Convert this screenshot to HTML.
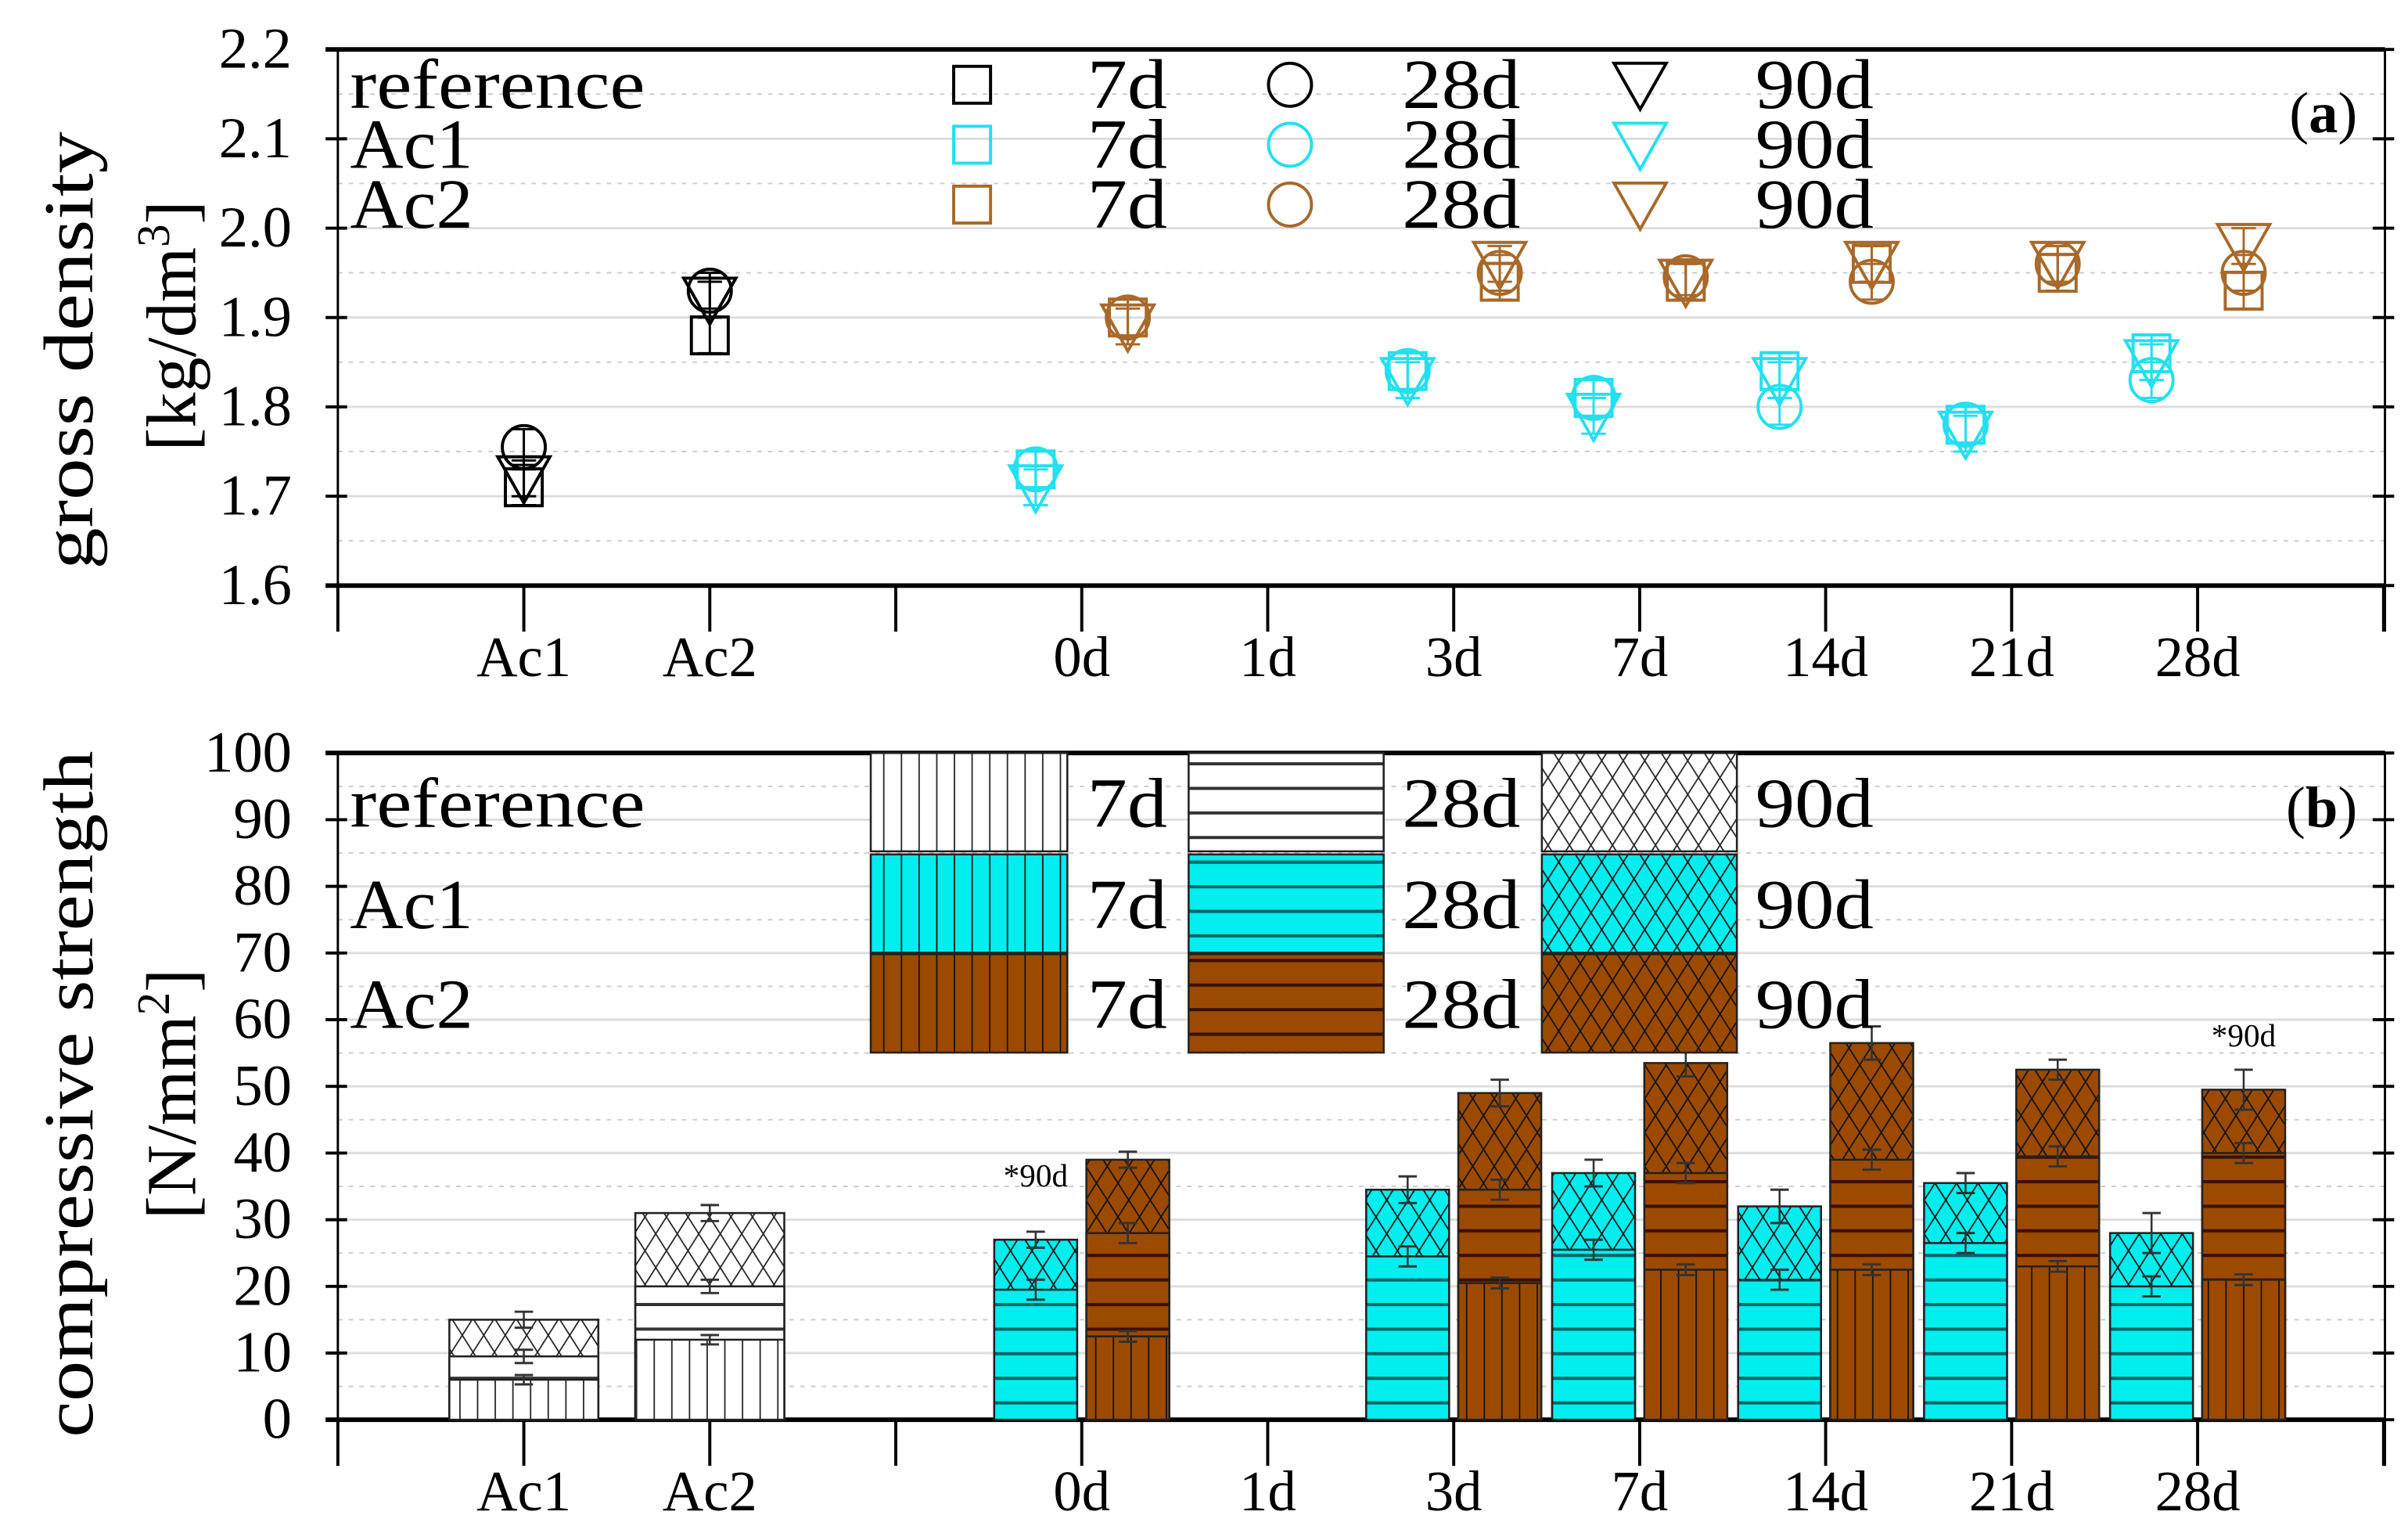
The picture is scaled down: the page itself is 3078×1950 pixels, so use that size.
<!DOCTYPE html>
<html><head><meta charset="utf-8">
<style>
html,body{margin:0;padding:0;background:#fff;}
svg{display:block;font-family:"Liberation Serif",serif;}
</style></head>
<body>
<svg id="fig" width="3078" height="1950" viewBox="0 0 1568 993" xmlns="http://www.w3.org/2000/svg">
<defs>
  <pattern id="pv-w" patternUnits="userSpaceOnUse" width="11.5" height="9"><rect width="11.5" height="9" fill="#fff"/><line x1="0.5" y1="0" x2="0.5" y2="9" stroke="#222" stroke-width="0.9"/></pattern>
  <pattern id="pv-c" patternUnits="userSpaceOnUse" width="11.5" height="9"><rect width="11.5" height="9" fill="#00eeee"/><line x1="0.5" y1="0" x2="0.5" y2="9" stroke="#111" stroke-width="0.9"/></pattern>
  <pattern id="pv-b" patternUnits="userSpaceOnUse" width="11.5" height="9"><rect width="11.5" height="9" fill="#9b4a00"/><line x1="0.5" y1="0" x2="0.5" y2="9" stroke="#111" stroke-width="0.9"/></pattern>
  <pattern id="ph-w" patternUnits="userSpaceOnUse" width="9" height="16"><rect width="9" height="16" fill="#fff"/><line x1="0" y1="1" x2="9" y2="1" stroke="#333" stroke-width="2"/></pattern>
  <pattern id="ph-c" patternUnits="userSpaceOnUse" width="9" height="16"><rect width="9" height="16" fill="#00eeee"/><line x1="0" y1="1" x2="9" y2="1" stroke="#066" stroke-width="2.2"/></pattern>
  <pattern id="ph-b" patternUnits="userSpaceOnUse" width="9" height="16"><rect width="9" height="16" fill="#9b4a00"/><line x1="0" y1="1" x2="9" y2="1" stroke="#3a1000" stroke-width="2.2"/></pattern>
  <pattern id="px-w" patternUnits="userSpaceOnUse" width="14" height="22"><rect width="14" height="22" fill="#fff"/><path d="M0,0L14,22M14,0L0,22" stroke="#222" stroke-width="0.9"/></pattern>
  <pattern id="px-c" patternUnits="userSpaceOnUse" width="14" height="22"><rect width="14" height="22" fill="#00eeee"/><path d="M0,0L14,22M14,0L0,22" stroke="#111" stroke-width="0.9"/></pattern>
  <pattern id="px-b" patternUnits="userSpaceOnUse" width="14" height="22"><rect width="14" height="22" fill="#9b4a00"/><path d="M0,0L14,22M14,0L0,22" stroke="#111" stroke-width="0.9"/></pattern>
</defs>
<g id="pa"></g>
<g id="pb"></g>
</svg>
<script>
// ---- data ----
const categories = ["Ac1","Ac2","","0d","1d","3d","7d","14d","21d","28d"];
const catSlots = [1,2,3,4,5,6,7,8,9,10];
// density (panel a)
const refDensSlots = [1,2];
const refDens7 = [1.71,1.88];
const refDens28 = [1.755,1.93];
const refDens90 = [1.72,1.92];
const ageSlots = [4,6,7,8,9,10];
const ac1Dens7 = [1.73,1.84,1.81,1.84,1.78,1.86];
const ac1Dens28 = [1.73,1.84,1.81,1.80,1.78,1.83];
const ac1Dens90 = [1.71,1.83,1.79,1.83,1.77,1.85];
const ac2Dens7 = [1.90,1.94,1.94,1.96,1.95,1.93];
const ac2Dens28 = [1.90,1.95,1.945,1.94,1.96,1.95];
const ac2Dens90 = [1.89,1.96,1.94,1.96,1.96,1.98];
const densErr = 0.02;
const densTicks = [1.6,1.7,1.8,1.9,2.0,2.1,2.2];
// strength (panel b)
const refStr7 = [6,12];
const refStr28 = [9.5,20];
const refStr90 = [15,31];
const ac1Str28 = [19.5,24.5,25.5,21,26.5,20];
const ac1Str90 = [27,34.5,37,32,35.5,28];
const ac2Str7 = [12.5,20.5,22.5,22.5,23,21];
const ac2Str28 = [28,34.5,37,39,39.5,40];
const ac2Str90 = [39,49,53.5,56.5,52.5,49.5];
const strErr = [1.2,2,2,2.5,1.5,3];
const strTicks = [0,10,20,30,40,50,60,70,80,90,100];

// ---- helpers ----
const NS="http://www.w3.org/2000/svg";
function mk(parent,tag,attrs,text){const e=document.createElementNS(NS,tag);for(const k in attrs)e.setAttribute(k,attrs[k]);if(text!==undefined)e.textContent=text;parent.appendChild(e);return e;}
const X0=220,X1=1553,SLOT=121.1;
const sx=s=>X0+s*SLOT;
const ya=v=>381-(v-1.6)/(0.6)*349;
const yb=v=>924-v/100*434;
const CY="#22e0f0",BR="#a8692a";
const LA="spacingAndGlyphs";

function axes(g,yf,ticks,top,bot,fmt){
  for(let i=0;i<ticks.length;i++){const t=ticks[i];
    if(i>0&&i<ticks.length-1){const l=mk(g,"line",{x1:X0,x2:X1,y1:yf(t),y2:yf(t),stroke:"#ddd","stroke-width":1.5});}
    if(i<ticks.length-1){const m=(t+ticks[i+1])/2;const l=mk(g,"line",{x1:X0,x2:X1,y1:yf(m),y2:yf(m),stroke:"#ccc","stroke-width":1,"stroke-dasharray":"3,4"});}
  }
  mk(g,"line",{x1:X0-8,x2:X1,y1:top,y2:top,stroke:"#000","stroke-width":3});
  mk(g,"line",{x1:X0-8,x2:X1,y1:bot,y2:bot,stroke:"#000","stroke-width":3});
  mk(g,"line",{x1:X0,x2:X0,y1:top,y2:bot+30,stroke:"#000","stroke-width":1.5});
  mk(g,"line",{x1:X1,x2:X1,y1:top,y2:bot+30,stroke:"#000","stroke-width":1.5});
  for(const t of ticks){
    mk(g,"line",{x1:X0-8,x2:X0+6,y1:yf(t),y2:yf(t),stroke:"#000","stroke-width":2});
    mk(g,"line",{x1:X1-8,x2:X1+6,y1:yf(t),y2:yf(t),stroke:"#000","stroke-width":2});
    const tl=mk(g,"text",{x:X0-30,y:yf(t)+12,"font-size":38,"text-anchor":"end"},fmt(t));
    
  }
  for(let s=0;s<=11;s++){mk(g,"line",{x1:sx(s),x2:sx(s),y1:bot,y2:bot+30,stroke:"#000","stroke-width":2});}
  for(let i=0;i<categories.length;i++){
    const t=mk(g,"text",{x:sx(catSlots[i]),y:bot+59,"font-size":37,"text-anchor":"middle"},categories[i]);
    
  }
}
function legText(g,x,y,s,len){return mk(g,"text",{x:x,y:y,"font-size":46,textLength:len,lengthAdjust:LA},s);}

// ---- panel a ----
const pa=document.getElementById("pa");
axes(pa,ya,densTicks,32,381,t=>t.toFixed(1));
function marker(g,type,x,y,col){
  let e;
  if(type==="sq") e=mk(g,"rect",{x:x-12,y:y-12,width:24,height:24,fill:"none",stroke:col,"stroke-width":2});
  else if(type==="ci") e=mk(g,"circle",{cx:x,cy:y,r:14,fill:"none",stroke:col,"stroke-width":2});
  else e=mk(g,"path",{d:`M${x-17},${y-14}L${x+17},${y-14}L${x},${y+16}Z`,fill:"none",stroke:col,"stroke-width":2});
  return e;
}
function errA(g,x,v,col){
  mk(g,"line",{x1:x,x2:x,y1:ya(v+densErr),y2:ya(v-densErr),stroke:col,"stroke-width":1.5});
  mk(g,"line",{x1:x-8,x2:x+8,y1:ya(v+densErr),y2:ya(v+densErr),stroke:col,"stroke-width":1.5});
  mk(g,"line",{x1:x-8,x2:x+8,y1:ya(v-densErr),y2:ya(v-densErr),stroke:col,"stroke-width":1.5});
}
function series(slots,off,vals,type,col,name){
  for(let i=0;i<slots.length;i++){const x=sx(slots[i])+off;errA(pa,x,vals[i],col);const m=marker(pa,type,x,ya(vals[i]),col);
    }
}
series(refDensSlots,0,refDens7,"sq","#000","ref-7d-point");
series(refDensSlots,0,refDens28,"ci","#000","ref-28d-point");
series(refDensSlots,0,refDens90,"tr","#000","ref-90d-point");
series(ageSlots,-30,ac1Dens7,"sq",CY,"ac1-7d-point");
series(ageSlots,-30,ac1Dens28,"ci",CY,"ac1-28d-point");
series(ageSlots,-30,ac1Dens90,"tr",CY,"ac1-90d-point");
series(ageSlots,30,ac2Dens7,"sq",BR,"ac2-7d-point");
series(ageSlots,30,ac2Dens28,"ci",BR,"ac2-28d-point");
series(ageSlots,30,ac2Dens90,"tr",BR,"ac2-90d-point");
const lga=mk(pa,"g",{});

const rowsA=[["reference","#000",55,192],["Ac1",CY,94,80],["Ac2",BR,133,80]];
for(const r of rowsA){
  legText(lga,228,r[2]+15,r[0],r[3]);
  marker(lga,"sq",633,r[2],r[1]);marker(lga,"ci",840,r[2],r[1]);marker(lga,"tr",1068,r[2],r[1]);
  legText(lga,708,r[2]+15,"7d",52);
  legText(lga,913,r[2]+15,"28d",77);
  legText(lga,1143,r[2]+15,"90d",77);
}
const pla=mk(pa,"text",{x:1535,y:86,"font-size":38,"text-anchor":"end"},"");
pla.innerHTML='(<tspan font-weight="bold">a</tspan>)';

const yta=mk(pa,"text",{transform:"translate(60,228) rotate(-90)","font-size":46,"text-anchor":"middle",textLength:285,lengthAdjust:LA},"gross density");

const yta2=mk(pa,"text",{transform:"translate(127,212) rotate(-90)","font-size":46,"text-anchor":"middle"},"");
yta2.innerHTML='[kg/dm<tspan font-size="30" dy="-17">3</tspan><tspan dy="17">]</tspan>';


// ---- panel b ----
const pb=document.getElementById("pb");
axes(pb,yb,strTicks,490,924,t=>String(t));
function bar(x,w,v,pat,name){
  const r=mk(pb,"rect",{x:x-w/2,y:yb(v),width:w,height:yb(0)-yb(v),fill:`url(#${pat})`,stroke:"#222","stroke-width":1.3});
  
}
function errB(x,v,e){
  const c="#333";
  mk(pb,"line",{x1:x,x2:x,y1:yb(v+e),y2:yb(v-e),stroke:c,"stroke-width":1.3});
  mk(pb,"line",{x1:x-6,x2:x+6,y1:yb(v+e),y2:yb(v+e),stroke:c,"stroke-width":1.5});
  mk(pb,"line",{x1:x-6,x2:x+6,y1:yb(v-e),y2:yb(v-e),stroke:c,"stroke-width":1.5});
}
for(let i=0;i<refDensSlots.length;i++){const x=sx(refDensSlots[i]);
  bar(x,97,refStr90[i],"px-w","ref-90d-bar");bar(x,97,refStr28[i],"ph-w","ref-28d-bar");bar(x,97,refStr7[i],"pv-w","ref-7d-bar");
  errB(x,refStr90[i],1.2);errB(x,refStr28[i],1);errB(x,refStr7[i],0.7);}
for(let i=0;i<ageSlots.length;i++){
  const xc=sx(ageSlots[i])-30,xb=sx(ageSlots[i])+30;
  bar(xc,54,ac1Str90[i],"px-c","ac1-90d-bar");bar(xc,54,ac1Str28[i],"ph-c","ac1-28d-bar");
  errB(xc,ac1Str90[i],strErr[i]);errB(xc,ac1Str28[i],1.5);
  bar(xb,54,ac2Str90[i],"px-b","ac2-90d-bar");bar(xb,54,ac2Str28[i],"ph-b","ac2-28d-bar");bar(xb,54,ac2Str7[i],"pv-b","ac2-7d-bar");
  errB(xb,ac2Str90[i],strErr[i]);errB(xb,ac2Str28[i],1.5);errB(xb,ac2Str7[i],0.8);
}
const n1=mk(pb,"text",{x:sx(4)-30,y:yb(35),"font-size":21,"text-anchor":"middle"},"*90d");

const n2=mk(pb,"text",{x:sx(10)+30,y:yb(56),"font-size":21,"text-anchor":"middle"},"*90d");

const lgb=mk(pb,"g",{});

const rowsB=[["reference","w",490,192],["Ac1","c",556,80],["Ac2","b",621,80]];
for(const r of rowsB){
  mk(lgb,"rect",{x:567,y:r[2],width:128,height:64,fill:`url(#pv-${r[1]})`,stroke:"#222","stroke-width":1.3});
  mk(lgb,"rect",{x:774,y:r[2],width:127,height:64,fill:`url(#ph-${r[1]})`,stroke:"#222","stroke-width":1.3});
  mk(lgb,"rect",{x:1004,y:r[2],width:127,height:64,fill:`url(#px-${r[1]})`,stroke:"#222","stroke-width":1.3});
  legText(lgb,228,r[2]+48,r[0],r[3]);
  legText(lgb,708,r[2]+48,"7d",52);
  legText(lgb,913,r[2]+48,"28d",77);
  legText(lgb,1143,r[2]+48,"90d",77);
}
const plb=mk(pb,"text",{x:1535,y:538,"font-size":38,"text-anchor":"end"},"");
plb.innerHTML='(<tspan font-weight="bold">b</tspan>)';

const ytb=mk(pb,"text",{transform:"translate(60,712) rotate(-90)","font-size":46,"text-anchor":"middle",textLength:447,lengthAdjust:LA},"compressive strength");

const ytb2=mk(pb,"text",{transform:"translate(127,712) rotate(-90)","font-size":46,"text-anchor":"middle"},"");
ytb2.innerHTML='[N/mm<tspan font-size="30" dy="-17">2</tspan><tspan dy="17">]</tspan>';

</script>
</body></html>
